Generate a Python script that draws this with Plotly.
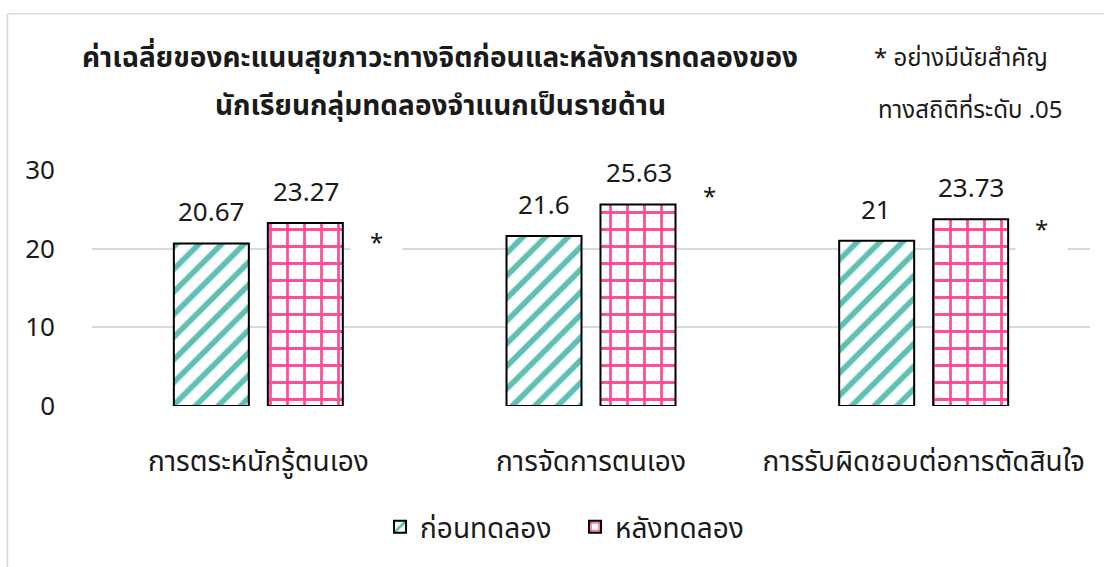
import plotly.graph_objects as go

categories = ["การตระหนักรู้ตนเอง", "การจัดการตนเอง", "การรับผิดชอบต่อการตัดสินใจ"]
before_vals = [20.67, 21.6, 21]
after_vals = [23.27, 25.63, 23.73]
series_names = ["ก่อนทดลอง", "หลังทดลอง"]
tick_vals = [0, 10, 20, 30]
star_y = [21.1, 27.0, 22.7]
title_lines = ["ค่าเฉลี่ยของคะแนนสุขภาวะทางจิตก่อนและหลังการทดลองของ",
               "นักเรียนกลุ่มทดลองจำแนกเป็นรายด้าน"]
note_lines = ["* อย่างมีนัยสำคัญ", "ทางสถิติที่ระดับ .05"]

FONT = "Noto Sans Thai, Noto Sans, DejaVu Sans, sans-serif"
TEAL = "#5cc0b5"
PINK = "#ff4f9a"

fig = go.Figure()
fig.add_trace(go.Bar(
    x=categories, y=before_vals, name=series_names[0],
    marker=dict(color="white", line=dict(color="black", width=2),
                pattern=dict(shape="/", fgcolor=TEAL, bgcolor="white", fgopacity=1,
                             size=16, solidity=0.35)),
))
fig.add_trace(go.Bar(
    x=categories, y=after_vals, name=series_names[1],
    marker=dict(color="white", line=dict(color="black", width=2),
                pattern=dict(shape="+", fgcolor=PINK, bgcolor="white", fgopacity=1,
                             size=17, solidity=0.3)),
))

annotations = []
for i, c in enumerate(categories):
    annotations.append(dict(x=c, y=before_vals[i], text=f"{before_vals[i]:g}", showarrow=False,
                            xshift=-47.5, yshift=30, yanchor="middle",
                            font=dict(size=26, color="#1a1a1a", family=FONT)))
    annotations.append(dict(x=c, y=after_vals[i], text=f"{after_vals[i]:g}", showarrow=False,
                            xshift=47.5, yshift=30, yanchor="middle",
                            font=dict(size=26, color="#1a1a1a", family=FONT)))
    annotations.append(dict(x=i + 0.355, y=star_y[i], text="*", showarrow=False,
                            yanchor="middle", yshift=-4, width=49, height=50, bgcolor="white",
                            font=dict(size=24, color="#1a1a1a", family=FONT)))

annotations.append(dict(xref="paper", yref="paper", x=0.3487, y=1.4705, text=f"<b>{title_lines[0]}</b>",
                        showarrow=False, xanchor="center", yanchor="middle",
                        font=dict(size=28, color="#1a1a1a", family=FONT)))
annotations.append(dict(xref="paper", yref="paper", x=0.3487, y=1.268, text=f"<b>{title_lines[1]}</b>",
                        showarrow=False, xanchor="center", yanchor="middle",
                        font=dict(size=28, color="#1a1a1a", family=FONT)))
annotations.append(dict(xref="paper", yref="paper", x=0.8707, y=1.4705, text=note_lines[0],
                        showarrow=False, xanchor="center", yanchor="middle",
                        font=dict(size=24, color="#1a1a1a", family=FONT)))
annotations.append(dict(xref="paper", yref="paper", x=0.8798, y=1.251, text=note_lines[1],
                        showarrow=False, xanchor="center", yanchor="middle",
                        font=dict(size=24, color="#1a1a1a", family=FONT)))

shapes = [
    dict(type="line", xref="paper", yref="paper", x0=-0.0847, x1=1.1, y0=1.6624, y1=1.6624,
         line=dict(color="#d9d9d9", width=1.5)),
    dict(type="line", xref="paper", yref="paper", x0=-0.0847, x1=-0.0847, y0=1.6624, y1=-0.8,
         line=dict(color="#d9d9d9", width=1.5)),
]

fig.update_layout(
    width=1104, height=567,
    margin=dict(l=92, r=14, t=170, b=160.5, autoexpand=False),
    paper_bgcolor="white", plot_bgcolor="white",
    barmode="group", bargap=0.435, bargroupgap=0.202,
    font=dict(family=FONT, size=26, color="#1a1a1a"),
    showlegend=True,
    legend=dict(orientation="h", x=0.484, xanchor="center", y=-0.513, yanchor="middle",
                font=dict(size=28, family=FONT, color="#1a1a1a"), itemwidth=30,
                entrywidth=150),
    annotations=annotations,
    shapes=shapes,
)
fig.update_yaxes(range=[0, 30], tickvals=tick_vals, showgrid=True, gridcolor="#d9d9d9", gridwidth=1.5,
                 zeroline=False, showline=False, ticks="", ticklabelstandoff=36,
                 tickfont=dict(size=26, family=FONT, color="#1a1a1a"))
fig.update_xaxes(showline=False, ticks="", ticklabelstandoff=36, automargin=False,
                 tickfont=dict(size=28, family=FONT, color="#1a1a1a"))

fig.write_html("out.html", config={"displayModeBar": False},
               post_script="document.body.style.margin='0';document.body.style.padding='0';")
